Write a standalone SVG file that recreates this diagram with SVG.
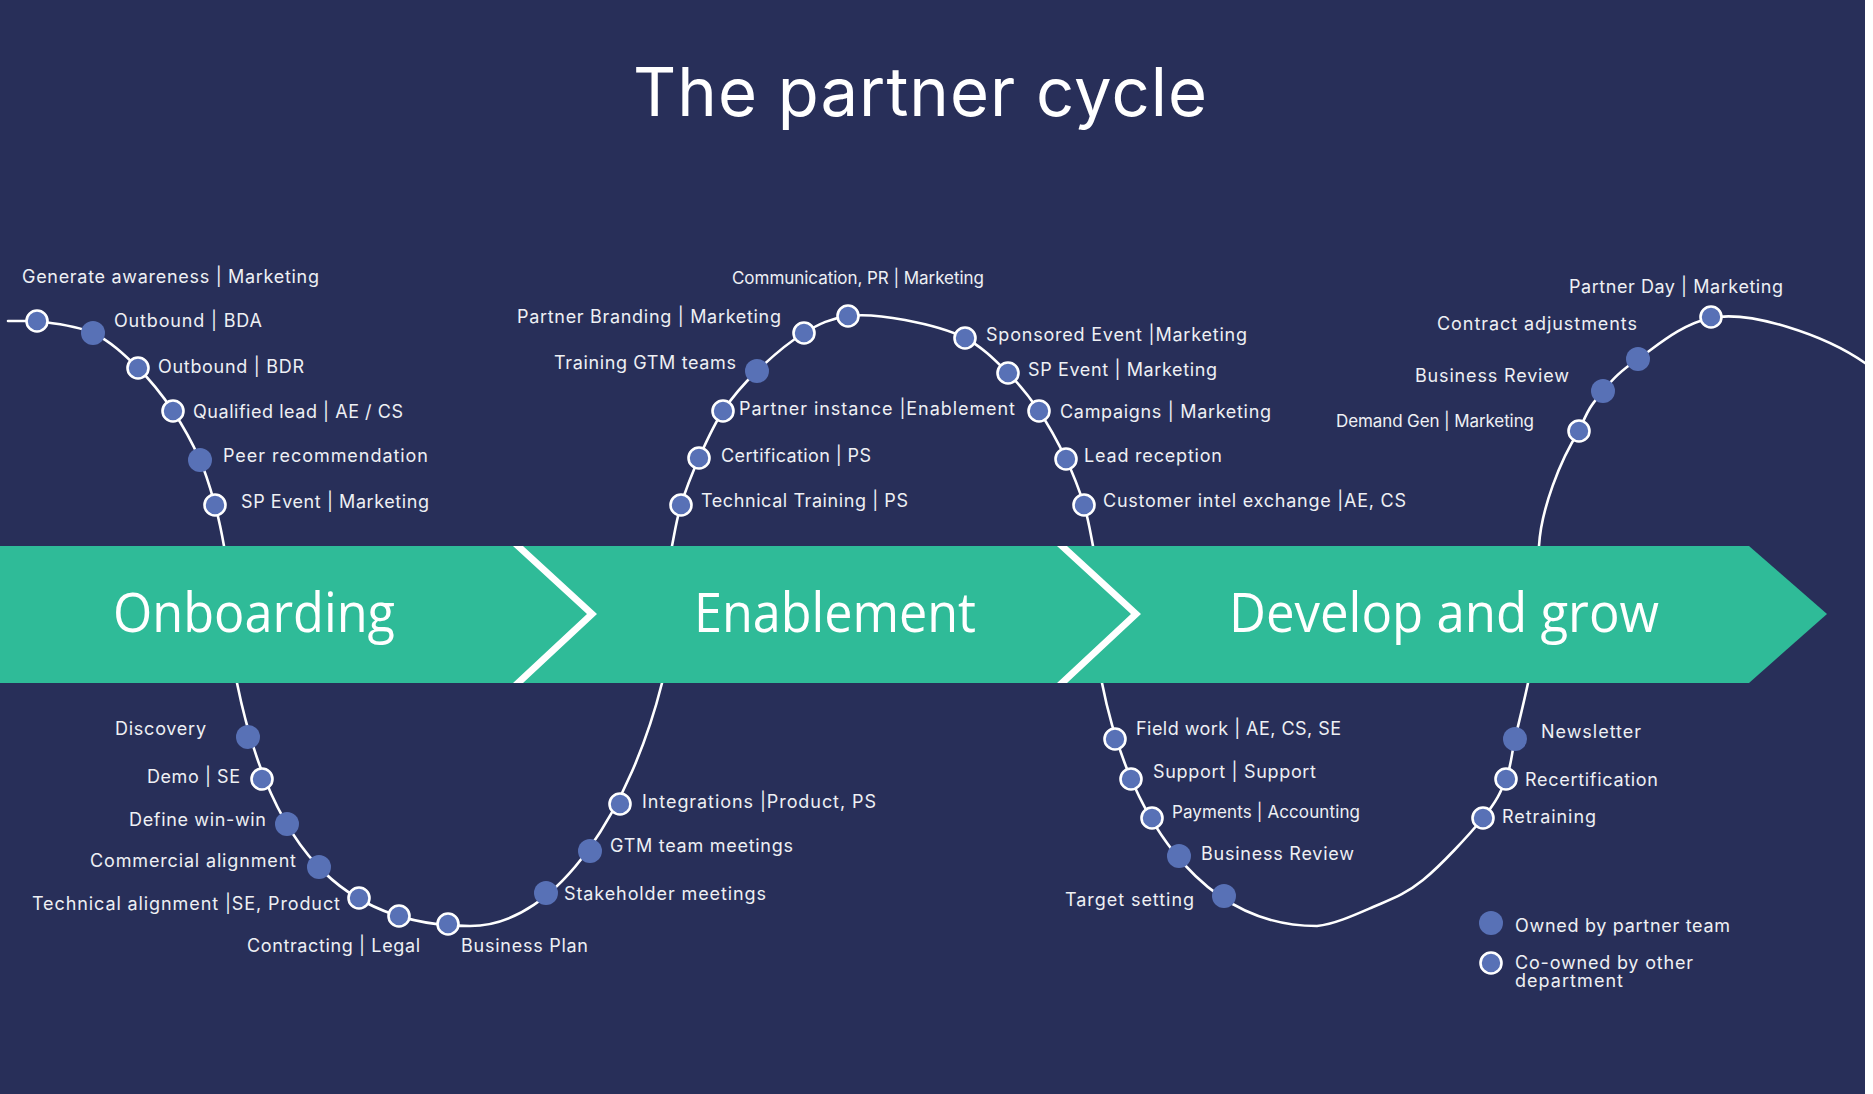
<svg xmlns="http://www.w3.org/2000/svg" width="1873" height="1094" viewBox="0 0 1873 1094">
<style>
.bg{fill:#282F59}
.curve{fill:none;stroke:#ffffff;stroke-width:2.6;stroke-linecap:round;stroke-linejoin:round}
.band{fill:#2FBB98}
.chev{fill:#ffffff}
.own{fill:#5871B6}
.co{fill:#5871B6;stroke:#ffffff;stroke-width:2.6}
text{font-family:Inter,"Noto Sans","Liberation Sans",sans-serif;fill:#EEF0F4}
.l{font-size:18px}
.s{font-size:17px}
.title{font-size:67px;fill:#ffffff}
.phase{font-family:"Open Sans","Noto Sans",sans-serif;font-size:54px;fill:#ffffff}
</style>
<rect class="bg" x="0" y="0" width="1873" height="1094"/>
<g id="title"><text class="title" x="633" y="116" textLength="574">The partner cycle</text></g>

<g id="connectors">
<path class="curve" d="M8,321 L37,321 C51.2,323 76.2,325.2 93,333 C109.8,340.8 124.7,355 138,368 C151.3,381 162.7,395.7 173,411 C183.3,426.3 193,444.3 200,460 C207,475.7 211,490.7 215,505 C219,519.3 221.8,533.5 224,546 L229,580"/>
<path class="curve" d="M232,660 L237,683 C270,845 340,926 470,926 C560,926 632,803 662,683 L668,660"/>
<path class="curve" d="M666,580 L672,546 C674.5,533.5 676.5,519.7 681,505 C685.5,490.3 692,473.7 699,458 C706,442.3 713.3,425.5 723,411 C732.7,396.5 743.5,384 757,371 C770.5,358 788.8,342.2 804,333 C819.2,323.8 831.2,318.2 848,316 C864.8,313.8 885.5,316.3 905,320 C924.5,323.7 947.8,329.2 965,338 C982.2,346.8 995.7,360.8 1008,373 C1020.3,385.2 1029.3,396.7 1039,411 C1048.7,425.3 1058.5,443.3 1066,459 C1073.5,474.7 1079.5,490.5 1084,505 C1088.5,519.5 1090.5,533.5 1093,546 L1099,580"/>
<path class="curve" d="M1098,660 L1102,683 C1127,810 1197,926 1317,926 C1335,924 1355.3,914.7 1373,907 C1390.7,899.3 1404.7,894.8 1423,880 C1441.3,865.2 1469.2,834.8 1483,818 C1496.8,801.2 1500.7,792.2 1506,779 C1511.3,765.8 1511.3,755 1515,739 C1518.7,723 1525.3,696.2 1528,683 L1533,660"/>
<path class="curve" d="M1531,580 L1539,546 C1541,510 1560,460 1579,431 C1589.7,405.2 1593.2,403 1603,391 C1612.8,379 1620,371.3 1638,359 C1656,346.7 1681,324 1711,318 C1750,310 1825,335 1865,363 L1895,385"/>
</g>

<g id="band">
<polygon class="band" points="0,546 1749,546 1827,614 1749,683 0,683"/>
<polygon class="chev" points="513,546 523,546 597,614 523,683 513,683 587,614"/>
<polygon class="chev" points="1057,546 1067,546 1141,614 1067,683 1057,683 1131,614"/>
<text class="phase" x="113" y="632" textLength="282" lengthAdjust="spacingAndGlyphs">Onboarding</text>
<text class="phase" x="694" y="632" textLength="282" lengthAdjust="spacingAndGlyphs">Enablement</text>
<text class="phase" x="1229" y="632" textLength="430" lengthAdjust="spacingAndGlyphs">Develop and grow</text>
</g>

<g id="n-generate-awareness"><circle class="co" cx="37" cy="321" r="10.5"/><text class="l" x="22" y="283" textLength="297">Generate awareness | Marketing</text></g>
<g id="n-outbound-bda"><circle class="own" cx="93" cy="333" r="12"/><text class="l" x="114" y="327" textLength="148">Outbound | BDA</text></g>
<g id="n-outbound-bdr"><circle class="co" cx="138" cy="368" r="10.5"/><text class="l" x="158" y="373" textLength="146">Outbound | BDR</text></g>
<g id="n-qualified-lead"><circle class="co" cx="173" cy="411" r="10.5"/><text class="l" x="193" y="418" textLength="210">Qualified lead | AE / CS</text></g>
<g id="n-peer-recommendation"><circle class="own" cx="200" cy="460" r="12"/><text class="l" x="223" y="462" textLength="205">Peer recommendation</text></g>
<g id="n-sp-event-1"><circle class="co" cx="215" cy="505" r="10.5"/><text class="l" x="241" y="508" textLength="188">SP Event | Marketing</text></g>

<g id="n-communication"><circle class="co" cx="848" cy="316" r="10.5"/><text class="s" x="732" y="284" textLength="252">Communication, PR | Marketing</text></g>
<g id="n-partner-branding"><circle class="co" cx="804" cy="333" r="10.5"/><text class="l" x="517" y="323" textLength="264">Partner Branding | Marketing</text></g>
<g id="n-training-gtm"><circle class="own" cx="757" cy="371" r="12"/><text class="l" x="554" y="369" textLength="182">Training GTM teams</text></g>
<g id="n-partner-instance"><circle class="co" cx="723" cy="411" r="10.5"/><text class="l" x="739" y="415" textLength="276">Partner instance |Enablement</text></g>
<g id="n-certification"><circle class="co" cx="699" cy="458" r="10.5"/><text class="l" x="721" y="462" textLength="150">Certification | PS</text></g>
<g id="n-technical-training"><circle class="co" cx="681" cy="505" r="10.5"/><text class="l" x="701" y="507" textLength="207">Technical Training | PS</text></g>
<g id="n-sponsored-event"><circle class="co" cx="965" cy="338" r="10.5"/><text class="l" x="986" y="341" textLength="261">Sponsored Event |Marketing</text></g>
<g id="n-sp-event-2"><circle class="co" cx="1008" cy="373" r="10.5"/><text class="l" x="1028" y="376" textLength="189">SP Event | Marketing</text></g>
<g id="n-campaigns"><circle class="co" cx="1039" cy="411" r="10.5"/><text class="l" x="1060" y="418" textLength="211">Campaigns | Marketing</text></g>
<g id="n-lead-reception"><circle class="co" cx="1066" cy="459" r="10.5"/><text class="l" x="1084" y="462" textLength="138">Lead reception</text></g>
<g id="n-customer-intel"><circle class="co" cx="1084" cy="505" r="10.5"/><text class="l" x="1103" y="507" textLength="303">Customer intel exchange |AE, CS</text></g>

<g id="n-demand-gen"><circle class="co" cx="1579" cy="431" r="10.5"/><text class="s" x="1336" y="427" textLength="198">Demand Gen | Marketing</text></g>
<g id="n-business-review-1"><circle class="own" cx="1603" cy="391" r="12"/><text class="l" x="1415" y="382" textLength="154">Business Review</text></g>
<g id="n-contract-adjustments"><circle class="own" cx="1638" cy="359" r="12"/><text class="l" x="1437" y="330" textLength="200">Contract adjustments</text></g>
<g id="n-partner-day"><circle class="co" cx="1711" cy="317" r="10.5"/><text class="l" x="1569" y="293" textLength="214">Partner Day | Marketing</text></g>

<g id="n-discovery"><circle class="own" cx="248" cy="737" r="12"/><text class="l" x="115" y="735" textLength="91">Discovery</text></g>
<g id="n-demo"><circle class="co" cx="262" cy="779" r="10.5"/><text class="l" x="147" y="783" textLength="93">Demo | SE</text></g>
<g id="n-define-win-win"><circle class="own" cx="287" cy="824" r="12"/><text class="l" x="129" y="826" textLength="137">Define win-win</text></g>
<g id="n-commercial-alignment"><circle class="own" cx="319" cy="867" r="12"/><text class="l" x="90" y="867" textLength="206">Commercial alignment</text></g>
<g id="n-technical-alignment"><circle class="co" cx="359" cy="898" r="10.5"/><text class="l" x="32" y="910" textLength="308">Technical alignment |SE, Product</text></g>
<g id="n-contracting"><circle class="co" cx="399" cy="916" r="10.5"/><text class="l" x="247" y="952" textLength="173">Contracting | Legal</text></g>
<g id="n-business-plan"><circle class="co" cx="448" cy="924" r="10.5"/><text class="l" x="461" y="952" textLength="127">Business Plan</text></g>
<g id="n-stakeholder-meetings"><circle class="own" cx="546" cy="893" r="12"/><text class="l" x="564" y="900" textLength="202">Stakeholder meetings</text></g>
<g id="n-gtm-team-meetings"><circle class="own" cx="590" cy="851" r="12"/><text class="l" x="610" y="852" textLength="183">GTM team meetings</text></g>
<g id="n-integrations"><circle class="co" cx="620" cy="804" r="10.5"/><text class="l" x="642" y="808" textLength="234">Integrations |Product, PS</text></g>

<g id="n-field-work"><circle class="co" cx="1115" cy="739" r="10.5"/><text class="l" x="1136" y="735" textLength="205">Field work | AE, CS, SE</text></g>
<g id="n-support"><circle class="co" cx="1131" cy="779" r="10.5"/><text class="l" x="1153" y="778" textLength="163">Support | Support</text></g>
<g id="n-payments"><circle class="co" cx="1152" cy="818" r="10.5"/><text class="s" x="1172" y="818" textLength="188">Payments | Accounting</text></g>
<g id="n-business-review-2"><circle class="own" cx="1179" cy="856" r="12"/><text class="l" x="1201" y="860" textLength="153">Business Review</text></g>
<g id="n-target-setting"><circle class="own" cx="1224" cy="896" r="12"/><text class="l" x="1065" y="906" textLength="129">Target setting</text></g>
<g id="n-retraining"><circle class="co" cx="1483" cy="818" r="10.5"/><text class="l" x="1502" y="823" textLength="94">Retraining</text></g>
<g id="n-recertification"><circle class="co" cx="1506" cy="779" r="10.5"/><text class="l" x="1525" y="786" textLength="133">Recertification</text></g>
<g id="n-newsletter"><circle class="own" cx="1515" cy="739" r="12"/><text class="l" x="1541" y="738" textLength="100">Newsletter</text></g>

<g id="legend">
<circle class="own" cx="1491" cy="923" r="12"/><text class="l" x="1515" y="932" textLength="215">Owned by partner team</text>
<circle class="co" cx="1491" cy="963" r="10.5"/><text class="l" x="1515" y="969" textLength="178">Co-owned by other</text>
<text class="l" x="1515" y="987" textLength="108">department</text>
</g>
<rect x="1865" y="0" width="8" height="1094" fill="#ffffff"/>
</svg>
